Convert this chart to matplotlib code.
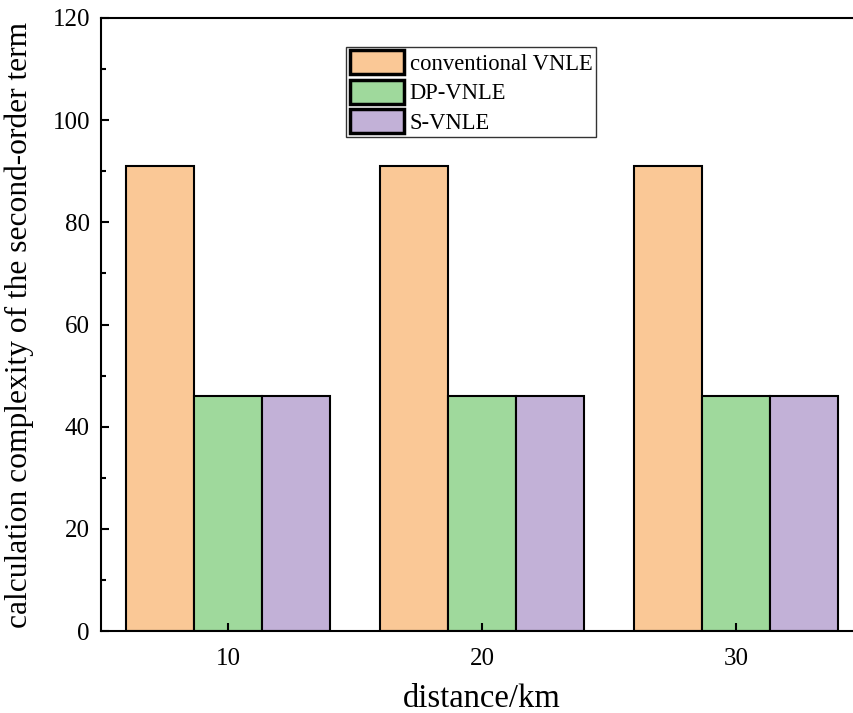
import numpy as np
import matplotlib.pyplot as plt
from matplotlib.ticker import MultipleLocator

plt.rcParams['font.family'] = ['Liberation Serif', 'DejaVu Serif']

# data
distances = [10, 20, 30]
series_names = ['conventional VNLE', 'DP-VNLE', 'S-VNLE']
conventional = [91, 91, 91]
dp_vnle = [46, 46, 46]
s_vnle = [46, 46, 46]
colors = ['#FAC896', '#9FD99C', '#C2B1D7']

fig = plt.figure(figsize=(8.54, 7.13), dpi=100)
ax = fig.add_axes([101/854, (713-631)/713, 762/854, 613/713])

x = np.array(distances, dtype=float)
w = 8/3
for i, (vals, name, c) in enumerate(zip([conventional, dp_vnle, s_vnle], series_names, colors)):
    ax.bar(x + (i - 1) * w, vals, width=w, color=c, edgecolor='black', linewidth=1.5, label=name)

ax.set_xlim(5, 35)
ax.set_ylim(0, 120)
ax.set_xticks(distances)
ax.yaxis.set_major_locator(MultipleLocator(20))
ax.yaxis.set_minor_locator(MultipleLocator(10))
ax.tick_params(axis='both', which='major', direction='in', length=6, width=1.5, labelsize=18)
ax.tick_params(axis='x', which='major', pad=12)
ax.tick_params(axis='y', which='major', pad=8)
ax.tick_params(axis='y', which='minor', direction='in', length=3.5, width=1.5)
ax.spines['right'].set_visible(False)
for s in ['left', 'top', 'bottom']:
    ax.spines[s].set_linewidth(1.5)

ax.set_xlabel('distance/km', fontsize=23.5, labelpad=10)
ax.set_ylabel('calculation complexity of the second-order term', fontsize=22.7, labelpad=13)

leg = ax.legend(loc='upper left', bbox_to_anchor=(0.322, 0.953), fontsize=16.3, frameon=True,
                fancybox=False, edgecolor='black', borderpad=0.15, handlelength=2.4,
                handleheight=1.25, handletextpad=0.25, labelspacing=0.22, borderaxespad=0)
leg.get_frame().set_linewidth(1.0)
for h in leg.legend_handles:
    h.set_linewidth(2.5)

fig.savefig('out.png', dpi=100)
